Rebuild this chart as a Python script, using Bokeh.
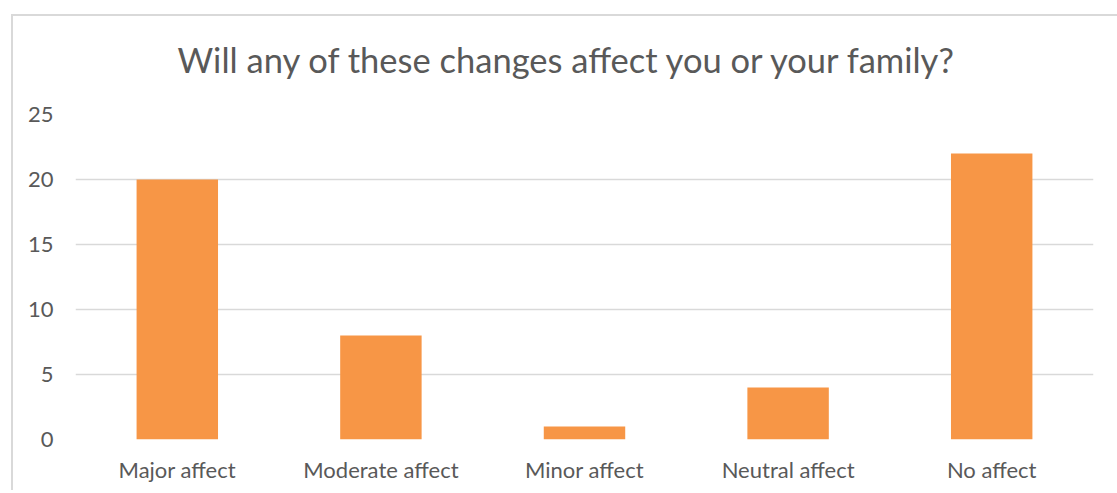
from bokeh.plotting import figure
from bokeh.models import FactorRange
from bokeh.embed import file_html
from bokeh.resources import INLINE

categories = ["Major affect", "Moderate affect", "Minor affect", "Neutral affect", "No affect"]
counts = [20, 8, 1, 4, 22]
y_ticks = [0, 5, 10, 15, 20, 25]
title_text = "Will any of these changes affect you or your family?"

FONT = "Lato"
TXT = "#595959"
GRID = "#D9D9D9"

p = figure(x_range=FactorRange(*categories), y_range=(0, 25),
           width=1106, height=490, output_backend="svg", toolbar_location=None,
           min_border_left=64, min_border_right=24, min_border_top=114, min_border_bottom=51,
           title=title_text)
# chart-area outline (top and left edges) drawn behind the transparent canvas border
p.styles = {"position": "relative", "left": "11px", "top": "0px",
            "background": "linear-gradient(#D9D9D9, #D9D9D9) 0px 14px / 100% 2px no-repeat, "
                          "linear-gradient(#D9D9D9, #D9D9D9) 0px 14px / 2px 100% no-repeat"}
p.border_fill_color = None

p.vbar(x=categories, top=counts, width=0.4, fill_color="#F79646", line_color=None)

p.title.align = "left"
p.title.offset = 102
p.title.text_font = FONT
p.title.text_font_size = "34.5px"
p.title.text_font_style = "normal"
p.title.text_color = TXT
p.title.standoff = 70

p.outline_line_color = None
p.xgrid.grid_line_color = None
p.ygrid.grid_line_color = GRID
p.ygrid.grid_line_width = 1.3
p.yaxis.ticker = y_ticks
p.yaxis.axis_line_color = None
p.yaxis.major_tick_line_color = None
p.yaxis.minor_tick_line_color = None
p.yaxis.major_label_standoff = 16
p.xaxis.axis_line_color = None
p.xaxis.major_tick_line_color = None
p.xaxis.major_label_standoff = 10
for ax in (p.xaxis, p.yaxis):
    ax.major_label_text_font = FONT
    ax.major_label_text_font_size = "22px"
    ax.major_label_text_color = TXT

open("out.html", "w").write(file_html(p, INLINE))
